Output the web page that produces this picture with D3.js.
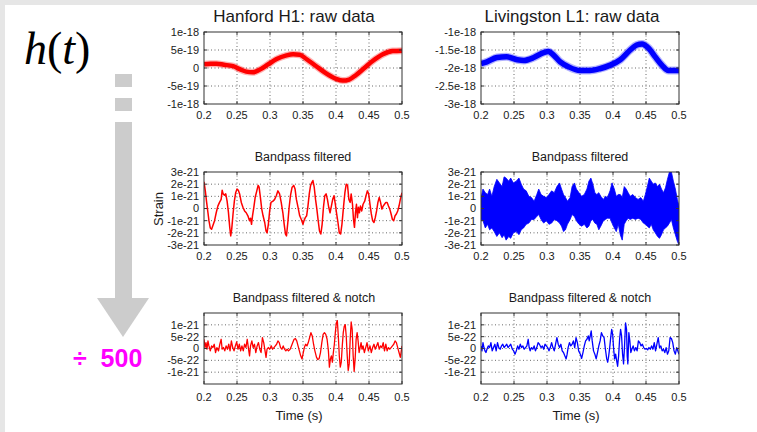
<!DOCTYPE html>
<html><head><meta charset="utf-8">
<script src="https://cdn.jsdelivr.net/npm/d3@7"></script>
<style>
body{margin:0;background:#fff;}
svg text{font-family:"Liberation Sans",Arial,Helvetica,sans-serif;fill:#1a1a1a;}
</style></head><body>
<svg id="c" width="757" height="432"></svg>
<script>
// ---------- tick values & labels ----------
const timeTicks=[0.2,0.25,0.3,0.35,0.4,0.45,0.5];
const timeTickLabels=["0.2","0.25","0.3","0.35","0.4","0.45","0.5"];
const hRawTicks=[10,5,0,-5,-10];            // units of 1e-19
const hRawTickLabels=["1e-18","5e-19","0","-5e-19","-1e-18"];
const lRawTicks=[-10,-15,-20,-25,-30];      // units of 1e-19
const lRawTickLabels=["-1e-18","-1.5e-18","-2e-18","-2.5e-18","-3e-18"];
const bandTicks=[3,2,1,0,-1,-2,-3];         // units of 1e-21
const bandTickLabels=["3e-21","2e-21","1e-21","0","-1e-21","-2e-21","-3e-21"];
const notchTicks=[10,5,0,-5,-10];           // units of 1e-22
const notchTickLabels=["1e-21","5e-22","0","-5e-22","-1e-21"];

// ---------- series: [time (s), strain] ----------
// Hanford raw, strain ×1e-19
const hanfordRaw=[[0.2,1.0],[0.21,1.2],[0.219,1.2],[0.23,0.9],[0.244,0.5],[0.255,-0.4],[0.264,-1.0],[0.274,-1.2],[0.284,-0.5],[0.297,1.0],[0.31,2.5],[0.325,3.5],[0.335,3.8],[0.345,3.7],[0.355,2.5],[0.37,0.5],[0.385,-1.5],[0.40,-3.0],[0.41,-3.5],[0.42,-3.2],[0.43,-2.0],[0.443,0.0],[0.456,2.0],[0.471,3.8],[0.486,4.7],[0.5,4.8]];
// Livingston raw, strain ×1e-19
const livingstonRaw=[[0.2,-18.8],[0.209,-18.3],[0.224,-17.1],[0.239,-16.9],[0.255,-17.7],[0.265,-17.9],[0.28,-17.1],[0.295,-15.7],[0.302,-15.4],[0.31,-16.4],[0.32,-18.3],[0.333,-19.7],[0.35,-20.7],[0.365,-20.7],[0.38,-20.2],[0.396,-19.2],[0.411,-17.7],[0.426,-15.0],[0.436,-13.6],[0.444,-13.3],[0.454,-14.5],[0.464,-16.9],[0.474,-19.2],[0.484,-20.7],[0.5,-20.7]];
// Hanford bandpass, strain ×1e-21
const hanfordBand=[[0.2,2.2],[0.202,1.45],[0.204,0.5],[0.206,-0.35],[0.2075,-1.0],[0.2095,-1.6],[0.2115,-1.7],[0.2135,-1.4],[0.216,-1.0],[0.2185,-0.35],[0.221,0.2],[0.2235,0.5],[0.226,0.75],[0.2275,1.5],[0.229,1.2],[0.231,1.1],[0.233,1.2],[0.235,0.6],[0.237,-0.3],[0.239,-1.55],[0.2405,-2.25],[0.242,-1.7],[0.244,-0.45],[0.246,0.6],[0.248,1.3],[0.25,1.6],[0.252,1.5],[0.254,1.2],[0.2565,0.5],[0.259,0.1],[0.2615,-0.2],[0.264,-0.35],[0.2665,-0.6],[0.269,-1.0],[0.2705,-0.8],[0.272,-1.3],[0.2735,-0.6],[0.2755,0.1],[0.2775,0.9],[0.28,1.45],[0.282,1.9],[0.2835,1.75],[0.2855,0.9],[0.2875,-0.05],[0.2895,-0.6],[0.292,-1.15],[0.294,-1.85],[0.2955,-2.0],[0.2975,-1.3],[0.2995,-0.2],[0.3015,0.5],[0.3045,0.6],[0.307,0.75],[0.3095,1.05],[0.312,1.45],[0.3145,1.2],[0.317,0.5],[0.3195,-0.35],[0.3215,-1.3],[0.3235,-2.1],[0.325,-2.25],[0.327,-1.15],[0.329,0.1],[0.331,1.05],[0.3335,1.75],[0.336,1.9],[0.338,1.6],[0.34,0.75],[0.3425,0.1],[0.345,-0.6],[0.3475,-0.9],[0.35,-1.3],[0.3515,-1.0],[0.3535,-0.75],[0.3555,-0.6],[0.3575,0.2],[0.3595,1.2],[0.3615,1.9],[0.3635,2.15],[0.365,2.3],[0.367,1.75],[0.369,0.75],[0.371,-0.05],[0.373,-1.0],[0.375,-1.85],[0.377,-2.1],[0.379,-1.3],[0.381,0.1],[0.383,1.05],[0.385,1.2],[0.387,0.75],[0.389,0.1],[0.391,-0.35],[0.393,0.2],[0.395,0.75],[0.397,1.05],[0.399,0.35],[0.401,-0.45],[0.403,-1.15],[0.405,-2.0],[0.407,-2.1],[0.409,-1.3],[0.4115,0.2],[0.4135,1.3],[0.4155,2.0],[0.4175,1.9],[0.4195,0.75],[0.4215,0.5],[0.423,1.2],[0.425,0.35],[0.4265,-0.9],[0.428,-1.55],[0.4295,-0.35],[0.431,0.35],[0.4325,-0.75],[0.434,0.1],[0.4355,-0.35],[0.437,0.2],[0.439,-0.2],[0.441,0.35],[0.4435,0.6],[0.4455,1.05],[0.4475,1.45],[0.4495,1.2],[0.4515,0.35],[0.4535,-0.45],[0.4555,-1.0],[0.4575,-1.15],[0.4595,-0.75],[0.4615,-0.2],[0.4635,0.5],[0.4655,0.9],[0.4675,0.5],[0.4695,-0.05],[0.4715,0.2],[0.4735,0.35],[0.4755,0.5],[0.4775,0.5],[0.4795,0.2],[0.4815,-0.05],[0.4835,-0.45],[0.4855,-0.9],[0.4875,-1.0],[0.4895,-0.6],[0.4915,-0.45],[0.4935,-0.2],[0.4955,0.2],[0.4975,0.75],[0.5,1.3]];
// Livingston bandpass envelope: [time, upper, lower], strain ×1e-21
const livingstonBand=[[0.2,0.9,-0.9],[0.203,1.6,-1.0],[0.2065,1.3,-1.6],[0.21,1.15,-1.3],[0.213,1.6,-1.75],[0.2165,1.0,-1.6],[0.22,1.8,-1.9],[0.224,2.4,-2.3],[0.228,2.1,-2.0],[0.232,1.8,-2.4],[0.235,2.6,-2.15],[0.238,2.5,-2.6],[0.242,2.25,-2.3],[0.245,2.5,-2.45],[0.249,2.1,-2.0],[0.2535,2.25,-1.9],[0.2575,2.5,-2.15],[0.261,2.0,-1.75],[0.2645,1.6,-1.6],[0.2685,1.45,-1.3],[0.2725,1.0,-1.2],[0.2765,0.9,-0.9],[0.2805,0.6,-0.9],[0.2845,1.15,-0.65],[0.2875,1.6,-0.5],[0.291,1.15,-0.9],[0.295,1.0,-1.2],[0.299,0.9,-1.0],[0.303,1.15,-1.3],[0.307,1.45,-1.2],[0.311,1.3,-0.9],[0.315,1.8,-1.0],[0.319,2.1,-1.2],[0.322,1.6,-1.45],[0.325,1.15,-1.9],[0.328,0.9,-1.75],[0.331,0.6,-1.3],[0.335,0.9,-0.9],[0.338,1.8,-0.5],[0.3415,2.1,-0.65],[0.3445,1.6,-1.0],[0.3485,1.3,-1.3],[0.3525,1.0,-1.45],[0.3565,1.15,-1.3],[0.3605,1.6,-1.6],[0.3635,2.25,-1.45],[0.3665,2.5,-1.0],[0.3695,2.0,-0.9],[0.3725,1.3,-1.2],[0.3755,1.15,-1.3],[0.3785,1.3,-1.75],[0.3815,1.0,-1.45],[0.3855,0.75,-1.0],[0.3885,1.0,-0.9],[0.3915,0.9,-0.8],[0.3955,1.45,-0.8],[0.3985,2.1,-1.2],[0.402,1.6,-1.6],[0.405,1.0,-1.9],[0.408,1.15,-1.3],[0.411,1.15,-2.15],[0.414,0.9,-2.6],[0.417,1.8,-1.3],[0.42,1.6,-1.0],[0.423,1.3,-0.8],[0.426,1.0,-0.9],[0.43,1.15,-0.8],[0.434,0.9,-0.9],[0.438,0.75,-0.8],[0.442,0.9,-0.9],[0.446,0.6,-1.2],[0.449,1.15,-1.3],[0.452,1.8,-1.45],[0.455,2.5,-1.6],[0.458,2.25,-1.3],[0.461,2.0,-1.75],[0.464,2.1,-2.0],[0.4675,1.8,-2.3],[0.4705,2.0,-2.45],[0.4735,1.6,-2.15],[0.4765,1.3,-1.75],[0.4795,1.7,-1.6],[0.4825,2.4,-1.45],[0.4855,3.0,-1.2],[0.4885,3.0,-0.9],[0.4915,2.25,-1.6],[0.4945,1.6,-2.15],[0.4975,0.75,-2.7],[0.5,0.2,-3.0]];
// Hanford bandpass + notch, strain ×1e-22
const hanfordNotch=[[0.2,3.9],[0.2015,0.4],[0.203,2.5],[0.2045,-0.3],[0.206,3.2],[0.2075,1.1],[0.2095,-1.0],[0.2115,1.1],[0.2135,0.4],[0.2155,1.8],[0.2175,-1.7],[0.2195,0.4],[0.222,-1.0],[0.224,1.8],[0.226,3.9],[0.2275,-0.3],[0.2295,0.4],[0.2315,-1.0],[0.2335,1.1],[0.2355,-0.3],[0.2375,1.8],[0.2395,-1.0],[0.2415,3.2],[0.2435,0.4],[0.2455,-1.0],[0.2475,1.1],[0.2495,2.8],[0.2515,-0.3],[0.2535,1.8],[0.2555,-1.0],[0.2575,1.1],[0.2595,-1.0],[0.2615,1.8],[0.2635,0.4],[0.2655,3.9],[0.2675,-0.3],[0.269,-3.1],[0.2705,1.1],[0.2725,3.2],[0.2745,0.4],[0.2765,1.8],[0.2785,-1.7],[0.2805,1.1],[0.2825,2.5],[0.2845,-0.3],[0.2865,-1.7],[0.2885,4.6],[0.2905,2.5],[0.2925,-1.0],[0.294,-3.75],[0.2955,-0.3],[0.2975,0.4],[0.2995,-0.3],[0.302,1.1],[0.304,-0.3],[0.306,0.4],[0.308,1.1],[0.31,1.8],[0.312,3.2],[0.314,2.5],[0.316,0.4],[0.318,-0.3],[0.32,1.1],[0.322,-0.3],[0.324,-1.0],[0.326,-0.3],[0.328,-1.0],[0.3305,-0.3],[0.3325,1.1],[0.3345,2.5],[0.3365,3.9],[0.3385,4.2],[0.3405,3.2],[0.3425,1.1],[0.3445,-1.0],[0.3465,-3.1],[0.3485,-4.4],[0.35,-2.4],[0.352,0.4],[0.354,1.8],[0.356,1.1],[0.358,2.5],[0.36,4.6],[0.362,6.7],[0.364,5.3],[0.366,1.8],[0.368,-1.0],[0.3705,-3.75],[0.3725,-4.7],[0.3745,-4.2],[0.3765,-1.7],[0.3785,2.5],[0.3805,6.0],[0.3825,6.7],[0.3845,6.0],[0.3865,3.9],[0.3885,-1.0],[0.39,-7.9],[0.3915,-4.4],[0.393,-3.1],[0.3945,-5.8],[0.396,-1.7],[0.3975,1.8],[0.399,6.7],[0.4005,10.8],[0.402,11.8],[0.4035,5.3],[0.405,-3.1],[0.4065,-7.9],[0.408,-5.8],[0.4095,1.1],[0.411,6.7],[0.4125,9.4],[0.414,10.1],[0.4155,5.3],[0.417,-3.1],[0.4185,-9.3],[0.42,-6.5],[0.4215,3.9],[0.423,11.2],[0.4245,8.1],[0.426,-3.1],[0.4275,-9.7],[0.429,-4.4],[0.4305,3.9],[0.432,6.7],[0.4335,3.2],[0.435,-1.7],[0.4365,0.4],[0.438,2.5],[0.4395,-0.3],[0.441,1.1],[0.443,-1.7],[0.445,0.4],[0.447,2.5],[0.449,-1.0],[0.4515,1.1],[0.4535,-1.7],[0.4555,0.4],[0.4575,1.8],[0.4595,-0.3],[0.4615,1.1],[0.4635,2.5],[0.4655,-0.3],[0.4675,1.1],[0.4695,0.4],[0.4715,2.5],[0.4735,-1.0],[0.4755,1.8],[0.4775,-1.0],[0.4795,0.4],[0.4815,-0.3],[0.4835,0.4],[0.4855,1.1],[0.4875,1.8],[0.4895,3.2],[0.4915,2.5],[0.4935,0.4],[0.4955,-1.7],[0.4975,-3.75],[0.5,1.1]];
// Livingston bandpass + notch, strain ×1e-22
const livingstonNotch=[[0.2,1.1],[0.2015,-1.0],[0.203,2.5],[0.2045,0.4],[0.206,-1.0],[0.2075,-1.7],[0.209,-0.3],[0.211,1.1],[0.213,0.4],[0.215,2.5],[0.217,-1.0],[0.219,0.4],[0.221,1.8],[0.223,-1.0],[0.225,2.5],[0.227,0.4],[0.229,-0.3],[0.231,1.1],[0.233,1.8],[0.235,0.4],[0.237,1.1],[0.239,1.8],[0.241,0.4],[0.243,1.1],[0.245,1.8],[0.2475,-0.3],[0.2495,-1.0],[0.2515,-2.4],[0.2535,-1.0],[0.2555,1.1],[0.2575,-0.3],[0.2595,1.8],[0.2615,0.4],[0.2635,1.1],[0.2655,-0.3],[0.2675,0.4],[0.2695,1.1],[0.2715,3.9],[0.273,0.4],[0.2745,-1.0],[0.2765,0.4],[0.2785,-0.3],[0.2805,1.1],[0.2825,-1.0],[0.2845,0.4],[0.2865,2.5],[0.2885,1.8],[0.291,0.4],[0.293,1.1],[0.295,-0.3],[0.297,1.8],[0.299,1.1],[0.301,0.4],[0.303,-1.0],[0.305,0.4],[0.307,2.5],[0.309,0.4],[0.311,-1.0],[0.313,1.8],[0.315,4.6],[0.317,1.8],[0.319,0.4],[0.321,1.8],[0.323,-1.0],[0.325,-1.7],[0.327,-3.1],[0.329,-4.4],[0.3305,-2.4],[0.332,0.4],[0.334,2.5],[0.336,1.1],[0.338,1.8],[0.34,3.2],[0.342,0.4],[0.344,4.6],[0.346,2.5],[0.348,-1.0],[0.3505,-2.4],[0.3525,-4.2],[0.3545,-1.7],[0.3565,1.1],[0.3585,3.2],[0.3605,3.9],[0.3625,5.3],[0.364,3.2],[0.3655,5.3],[0.367,7.4],[0.3685,3.2],[0.3705,-1.0],[0.3725,-2.4],[0.3745,-4.4],[0.3765,-1.7],[0.3785,1.1],[0.3805,3.2],[0.3825,6.7],[0.3845,5.3],[0.3865,4.6],[0.3885,-0.3],[0.3905,-4.4],[0.392,-5.8],[0.3935,-3.1],[0.395,0.4],[0.3965,4.6],[0.398,8.1],[0.3995,6.0],[0.401,-0.3],[0.4025,-4.4],[0.404,-2.4],[0.4055,-5.1],[0.407,-7.5],[0.4085,-3.1],[0.41,3.9],[0.4115,8.1],[0.413,5.3],[0.4145,-2.4],[0.416,-6.5],[0.4175,1.1],[0.419,10.8],[0.4205,8.1],[0.4215,-3.1],[0.4225,-6.5],[0.424,6.7],[0.4255,3.2],[0.427,-1.7],[0.4285,-0.3],[0.4305,1.1],[0.4325,-1.0],[0.4345,0.4],[0.4365,-1.0],[0.4385,3.2],[0.4405,2.5],[0.4425,1.1],[0.4445,1.8],[0.4465,0.4],[0.4485,-0.3],[0.4505,0.0],[0.4525,-0.6],[0.4545,0.4],[0.4565,-0.3],[0.4585,1.1],[0.4605,-0.3],[0.4625,2.5],[0.4645,-1.0],[0.4665,1.8],[0.4685,4.6],[0.4705,0.4],[0.4725,1.1],[0.4745,-1.0],[0.4765,-0.3],[0.4785,-1.7],[0.4805,0.4],[0.4825,-2.4],[0.4845,-1.0],[0.4865,4.6],[0.4885,4.2],[0.4905,2.5],[0.4925,-1.0],[0.4945,-2.4],[0.4965,0.4],[0.5,-2.4]];

// ---------- drawing ----------
const svg=d3.select("#c");
const RED="#ff0000", BLUE="#0000ff";
svg.append("rect").attr("x",0).attr("y",0).attr("width",757).attr("height",432).attr("fill","#e6e6e6");
svg.append("rect").attr("x",5).attr("y",5).attr("width",752).attr("height",427).attr("fill","#ffffff");

// h(t)
const ht=svg.append("text").attr("x",24).attr("y",64).style("font-family","'Liberation Serif','Times New Roman',serif").style("font-size","46px").style("fill","#000");
ht.append("tspan").style("font-style","italic").text("h");
ht.append("tspan").text("(");
ht.append("tspan").style("font-style","italic").text("t");
ht.append("tspan").text(")");

// gray arrow
const AR="#cccccc";
svg.append("rect").attr("x",115).attr("y",74).attr("width",17).attr("height",13).attr("fill",AR);
svg.append("rect").attr("x",115).attr("y",98).attr("width",17).attr("height",13).attr("fill",AR);
svg.append("rect").attr("x",115).attr("y",122).attr("width",17).attr("height",177).attr("fill",AR);
svg.append("path").attr("d","M97,298 L149,298 L123,337 Z").attr("fill",AR);

svg.append("text").attr("x",73).attr("y",367).attr("xml:space","preserve").style("font-size","25px").style("font-weight","bold").style("fill","#ff00ff").text("÷  500");

let clipId=0;
function panel(o){
  const x=d3.scaleLinear().domain([0.2,0.5]).range([o.x0,o.x1]);
  const y=d3.scaleLinear().domain(o.yDomain).range([o.y1,o.y0]);
  const g=svg.append("g");
  const grid=g.append("g").attr("stroke","#444").attr("stroke-width",0.8).attr("stroke-dasharray","1,2.5");
  timeTicks.slice(1,-1).forEach(t=>grid.append("line").attr("x1",x(t)).attr("x2",x(t)).attr("y1",o.y0).attr("y2",o.y1));
  o.ticks.forEach(v=>{ if(y(v)>o.y0+1 && y(v)<o.y1-1) grid.append("line").attr("x1",o.x0).attr("x2",o.x1).attr("y1",y(v)).attr("y2",y(v)); });
  const id="clip"+(clipId++);
  svg.append("clipPath").attr("id",id).append("rect").attr("x",o.x0).attr("y",o.y0).attr("width",o.x1-o.x0).attr("height",o.y1-o.y0);
  const dg=g.append("g").attr("clip-path",`url(#${id})`);
  o.draw(dg,x,y);
  g.append("rect").attr("x",o.x0).attr("y",o.y0).attr("width",o.x1-o.x0).attr("height",o.y1-o.y0).attr("fill","none").attr("stroke","#333").attr("stroke-width",1);
  const tk=g.append("g").attr("stroke","#333").attr("stroke-width",1);
  timeTicks.forEach(t=>{tk.append("line").attr("x1",x(t)).attr("x2",x(t)).attr("y1",o.y1).attr("y2",o.y1-3);
                        tk.append("line").attr("x1",x(t)).attr("x2",x(t)).attr("y1",o.y0).attr("y2",o.y0+3);});
  o.ticks.forEach(v=>{tk.append("line").attr("x1",o.x0).attr("x2",o.x0+3).attr("y1",y(v)).attr("y2",y(v));
                      tk.append("line").attr("x1",o.x1).attr("x2",o.x1-3).attr("y1",y(v)).attr("y2",y(v));});
  timeTicks.forEach((t,i)=>g.append("text").attr("x",x(t)).attr("y",o.xLabelY).attr("dy","0.35em").attr("text-anchor","middle").style("font-size","11px").text(timeTickLabels[i]));
  o.ticks.forEach((v,i)=>g.append("text").attr("x",o.x0-5).attr("y",y(v)).attr("dy","0.35em").attr("text-anchor","end").style("font-size","11px").text(o.tickLabels[i]));
  g.append("text").attr("x",o.titleX).attr("y",o.titleY).attr("dy","0.35em").attr("text-anchor","middle").style("font-size",o.titleSize).text(o.title);
  if(o.xTitle) g.append("text").attr("x",(o.x0+o.x1)/2-4).attr("y",415).attr("dy","0.35em").attr("text-anchor","middle").style("font-size","13px").text(o.xTitle);
}

function thickLine(color,w){
  return (dg,x,y,data)=>{
    const ln=d3.line().x(d=>x(d[0])).y(d=>y(d[1])).curve(d3.curveMonotoneX);
    dg.append("path").datum(data).attr("d",ln).attr("fill","none").attr("stroke",color).attr("stroke-opacity",0.3).attr("stroke-width",w+2.5).attr("stroke-linejoin","round");
    dg.append("path").datum(data).attr("d",ln).attr("fill","none").attr("stroke",color).attr("stroke-width",w).attr("stroke-linejoin","round");
  };
}
function thinLine(color,w){
  return (dg,x,y,data)=>{
    const ln=d3.line().x(d=>x(d[0])).y(d=>y(d[1]));
    dg.append("path").datum(data).attr("d",ln).attr("fill","none").attr("stroke",color).attr("stroke-width",w).attr("stroke-linejoin","round");
  };
}

const L0=204,L1=402,R0=481,R1=679;
panel({x0:L0,x1:L1,y0:32,y1:104,yDomain:[-10,10],ticks:hRawTicks,tickLabels:hRawTickLabels,xLabelY:115,
  title:"Hanford H1: raw data",titleX:294,titleY:16,titleSize:"17px",
  draw:(dg,x,y)=>thickLine(RED,4.5)(dg,x,y,hanfordRaw)});
panel({x0:R0,x1:R1,y0:32,y1:104,yDomain:[-30,-10],ticks:lRawTicks,tickLabels:lRawTickLabels,xLabelY:115,
  title:"Livingston L1: raw data",titleX:572,titleY:16,titleSize:"17px",
  draw:(dg,x,y)=>thickLine(BLUE,5.5)(dg,x,y,livingstonRaw)});
panel({x0:L0,x1:L1,y0:172,y1:245,yDomain:[-3,3],ticks:bandTicks,tickLabels:bandTickLabels,xLabelY:256,
  title:"Bandpass filtered",titleX:303,titleY:157,titleSize:"12.5px",
  draw:(dg,x,y)=>thinLine(RED,1.5)(dg,x,y,hanfordBand)});
panel({x0:R0,x1:R1,y0:172,y1:245,yDomain:[-3,3],ticks:bandTicks,tickLabels:bandTickLabels,xLabelY:256,
  title:"Bandpass filtered",titleX:580,titleY:157,titleSize:"12.5px",
  draw:(dg,x,y)=>{
    const ar=d3.area().x(d=>x(d[0])).y0(d=>y(d[2])).y1(d=>y(d[1]));
    dg.append("path").datum(livingstonBand).attr("d",ar).attr("fill",BLUE).attr("stroke",BLUE).attr("stroke-width",0.8);
  }});
panel({x0:L0,x1:L1,y0:313,y1:384,yDomain:[-15,15],ticks:notchTicks,tickLabels:notchTickLabels,xLabelY:397,
  title:"Bandpass filtered & notch",titleX:304,titleY:298,titleSize:"12.5px",xTitle:"Time (s)",
  draw:(dg,x,y)=>thinLine(RED,1.3)(dg,x,y,hanfordNotch)});
panel({x0:R0,x1:R1,y0:313,y1:384,yDomain:[-15,15],ticks:notchTicks,tickLabels:notchTickLabels,xLabelY:397,
  title:"Bandpass filtered & notch",titleX:580,titleY:298,titleSize:"12.5px",xTitle:"Time (s)",
  draw:(dg,x,y)=>thinLine(BLUE,1.3)(dg,x,y,livingstonNotch)});

svg.append("text").attr("transform","translate(158,209) rotate(-90)").attr("dy","0.35em").attr("text-anchor","middle").style("font-size","13px").text("Strain");
</script></body></html>
